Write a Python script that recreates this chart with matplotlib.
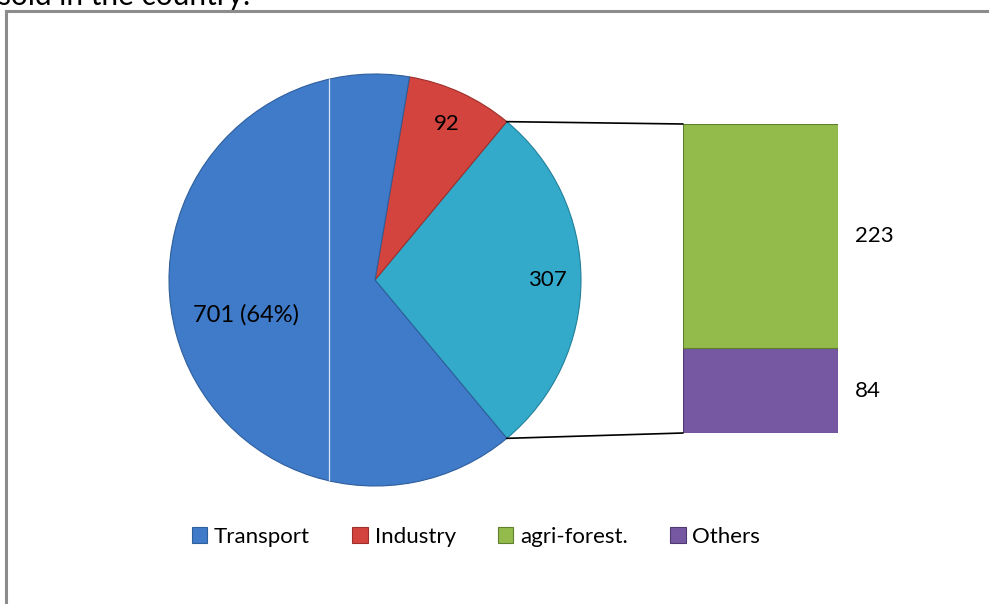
import matplotlib.pyplot as plt
from matplotlib.patches import Patch, ConnectionPatch
from matplotlib.lines import Line2D
import numpy as np

# datos del grafico (pie-of-pie)
categorias = ['Transport', 'Industry', 'agri-forest.', 'Others']
transport = 701
industry = 92
sub_nombres = ['Others', 'agri-forest.']
sub_valores = [84, 223]
otros_total = sum(sub_valores)

colores = {'Transport': '#3F7BC9', 'Industry': '#D3443F',
           'agri-forest.': '#93BB4C', 'Others': '#7658A2', 'resto': '#34AACB'}
bordes = {'Transport': '#2E5E9C', 'Industry': '#9E2F2B',
          'agri-forest.': '#5F7F2C', 'Others': '#4E3A70', 'resto': '#23809A'}

plt.rcParams['font.family'] = ['Lato', 'DejaVu Sans']

W, H = 989, 604
fig = plt.figure(figsize=(W / 100, H / 100), dpi=100)

# marco gris y texto cortado de arriba
fig.add_artist(Line2D([6 / W, 6 / W], [0, 1 - 11 / H], color='#8C8C8C', lw=2.2))
fig.add_artist(Line2D([6 / W, 1], [1 - 11 / H, 1 - 11 / H], color='#8C8C8C', lw=2.2))
fig.text(-2 / W, 1 - 5 / H, 'sold in the country.', fontsize=21.5, va='baseline', ha='left')

######################################Pastel principal
cx, cy, r = 375, 280, 206
ax = fig.add_axes([(cx - r) / W, (H - cy - r) / H, 2 * r / W, 2 * r / H])
valores_pie = [otros_total, industry, transport]
claves = ['resto', 'Industry', 'Transport']
total = sum(valores_pie)
inicio = -otros_total / total * 360 / 2
wedges, _ = ax.pie(valores_pie, startangle=inicio, counterclock=True,
                   colors=[colores[k] for k in claves], radius=1,
                   wedgeprops=dict(linewidth=0.8))
for w, k in zip(wedges, claves):
    w.set_edgecolor(bordes[k])
ax.set_xlim(-1, 1)
ax.set_ylim(-1, 1)
ax.set_aspect('equal')
ax.axis('off')

# linea blanca fina que atraviesa Transport
lv = ax.axvline(-0.223, color='white', lw=0.9, alpha=0.8)
lv.set_clip_path(wedges[2])

etiquetas = [str(otros_total), str(industry), f"{transport} ({transport / total:.0%})"]
distancias = [0.835, 0.835, 0.65]
tamanos = [16, 16, 17]
for w, txt, d, t in zip(wedges, etiquetas, distancias, tamanos):
    ang = np.deg2rad((w.theta1 + w.theta2) / 2)
    ax.text(d * np.cos(ang), d * np.sin(ang), txt, ha='center', va='center', fontsize=t)

######################################Barra secundaria
bx0, bx1, by0, by1 = 683, 838, 124, 433
axb = fig.add_axes([bx0 / W, (H - by1) / H, (bx1 - bx0) / W, (by1 - by0) / H])
base = 0
for nom, v in zip(sub_nombres, sub_valores):
    axb.bar(0, v, bottom=base, width=1, color=colores[nom], edgecolor=bordes[nom], linewidth=0.8)
    axb.text(0.61, base + v / 2, str(v), ha='left', va='center', fontsize=16, clip_on=False)
    base += v
axb.set_xlim(-0.5, 0.5)
axb.set_ylim(0, otros_total)
axb.axis('off')

# lineas de union entre el pastel y la barra
w0 = wedges[0]
for ang, yb in [(w0.theta2, otros_total), (w0.theta1, 0)]:
    a = np.deg2rad(ang)
    con = ConnectionPatch(xyA=(np.cos(a), np.sin(a)), coordsA=ax.transData,
                          xyB=(-0.5, yb), coordsB=axb.transData, color='black', lw=1.2)
    fig.add_artist(con)

######################################Leyenda
handles = [Patch(facecolor=colores[c], edgecolor=bordes[c], linewidth=0.8) for c in categorias]
fig.legend(handles, categorias, loc='center', bbox_to_anchor=(476 / W, 1 - 537 / H),
           ncol=4, frameon=False, fontsize=16, handlelength=0.7, handleheight=0.7,
           handletextpad=0.3, columnspacing=1.9)

fig.savefig('out.png', dpi=100)
